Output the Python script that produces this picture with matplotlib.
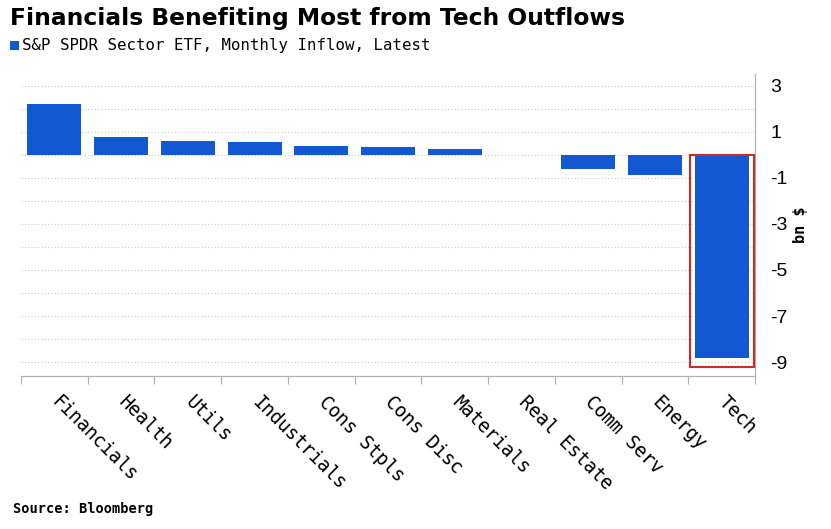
import matplotlib
matplotlib.use("Agg")
import matplotlib.pyplot as plt
from matplotlib.patches import Rectangle
from matplotlib.transforms import ScaledTranslation
import numpy as np

plt.rcParams["axes.unicode_minus"] = False

categories = ["Financials", "Health", "Utils", "Industrials", "Cons Stpls", "Cons Disc",
              "Materials", "Real Estate", "Comm Serv", "Energy", "Tech"]
inflows = [2.2, 0.75, 0.6, 0.55, 0.38, 0.35, 0.23, 0.0, -0.6, -0.9, -8.8]
yticks = [3, 1, -1, -3, -5, -7, -9]

title = "Financials Benefiting Most from Tech Outflows"
subtitle = "S&P SPDR Sector ETF, Monthly Inflow, Latest"
source = "Source: Bloomberg"
ylabel = "bn $"

bar_color = "#1258d3"
mono = "DejaVu Sans Mono"

fig = plt.figure(figsize=(8.31, 5.29), dpi=100)
ax = fig.add_axes([0.0253, 0.2892, 0.9085 - 0.0253, 0.860 - 0.2892])

x = np.arange(len(categories))
ax.bar(x, inflows, width=0.81, color=bar_color, zorder=3)

ax.set_xlim(-0.5, len(categories) - 0.5)
ax.set_ylim(-9.6, 3.5)

# gridlines every 1 unit
ax.set_yticks(np.arange(-9, 4, 1), minor=True)
ax.set_yticks(yticks)
ax.grid(axis="y", which="both", linestyle=(0, (1, 2)), color="#cccccc", linewidth=0.8, zorder=0)

ax.yaxis.tick_right()
ax.yaxis.set_label_position("right")
ax.tick_params(axis="y", which="both", length=0, pad=11, labelsize=14)
for lab in ax.get_yticklabels():
    lab.set_fontfamily("Liberation Sans")
ax.set_ylabel(ylabel, fontsize=11, fontfamily=mono, fontweight="bold", labelpad=4)

ax.set_xticks(x)
ax.set_xticklabels(categories, rotation=-45, ha="left", va="top", rotation_mode="anchor",
                   fontfamily=mono, fontsize=13.5)
ax.set_xticks(np.arange(-0.5, len(categories) + 0.5, 1), minor=True)
ax.tick_params(axis="x", which="major", length=0, pad=12)
ax.tick_params(axis="x", which="minor", length=6, color="#b0b0b0", width=0.8)
shift = ScaledTranslation(5 / 72, 0, fig.dpi_scale_trans)
for lab in ax.get_xticklabels():
    lab.set_transform(lab.get_transform() + shift)

for s in ["top", "left"]:
    ax.spines[s].set_visible(False)
for s in ["bottom", "right"]:
    ax.spines[s].set_color("#b0b0b0")
    ax.spines[s].set_linewidth(0.9)

# highlight rectangle around Tech
ti = len(categories) - 1
ax.add_patch(Rectangle((ti - 0.48, inflows[ti] - 0.4), 0.96, -(inflows[ti] - 0.4),
                       fill=False, edgecolor="#cc2b2b", linewidth=1.5, zorder=4, clip_on=False))

fig.text(0.012, 1 - 18 / 529, title, fontsize=16.8, fontweight="bold", fontfamily="DejaVu Sans",
         va="center", ha="left")
fig.patches.append(Rectangle((10 / 831, 1 - 50 / 529), 9 / 831, 9 / 529, transform=fig.transFigure,
                             facecolor=bar_color, edgecolor="none"))
fig.text(22 / 831, 1 - 46 / 529, subtitle, fontsize=11.3, fontfamily=mono, va="center", ha="left")
fig.text(13 / 831, 1 - 509 / 529, source, fontsize=9.8, fontfamily=mono, fontweight="bold",
         va="center", ha="left")

fig.savefig("out.png", dpi=100)
